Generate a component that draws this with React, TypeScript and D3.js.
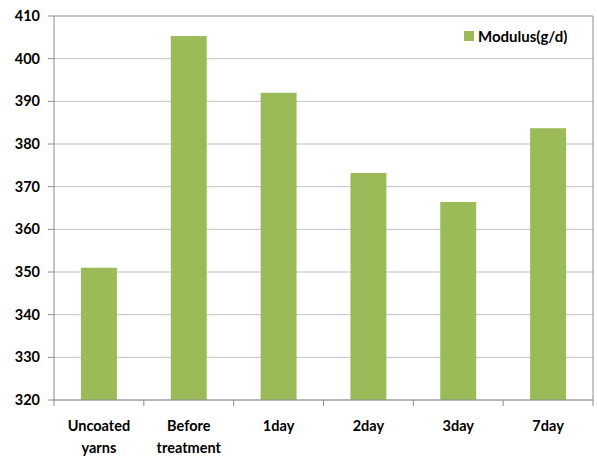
import React from "react";
import * as d3 from "d3";

const categories: string[][] = [["Uncoated", "yarns"], ["Before", "treatment"], ["1day"], ["2day"], ["3day"], ["7day"]];
const values: number[] = [351, 405.3, 392, 373.2, 366.4, 383.7];
const yTicks: number[] = [320, 330, 340, 350, 360, 370, 380, 390, 400, 410];
const seriesName = "Modulus(g/d)";

export default function App() {
  const W = 597, H = 459;
  const left = 54, right = 593, top = 16, bottom = 400;
  const x = d3.scaleBand<number>().domain(categories.map((_, i) => i)).range([left, right]).paddingInner(0.6).paddingOuter(0.3);
  const band = d3.scaleBand<number>().domain(categories.map((_, i) => i)).range([left, right]);
  const y = d3.scaleLinear().domain([320, 410]).range([bottom, top]);
  const font = "Lato, 'Open Sans', sans-serif";
  const green = "#9BBB59";
  return (
    <svg width={W} height={H} style={{ position: "absolute", left: 0, top: 0, background: "#fff" }}>
      {yTicks.map((t) => (
        <g key={t}>
          <line x1={left} x2={right} y1={y(t)} y2={y(t)} stroke={t === 410 ? "#8c8c8c" : "#c0c0c0"} strokeWidth={1} />
          <line x1={left - 6} x2={left} y1={y(t)} y2={y(t)} stroke="#8c8c8c" />
          <text x={40} y={y(t)} dy="0.35em" textAnchor="end" fontFamily={font} fontWeight="bold" fontSize={14.5} fill="#000">{t}</text>
        </g>
      ))}
      {values.map((v, i) => (
        <rect key={i} x={x(i)} y={y(v)} width={x.bandwidth()} height={bottom - y(v)} fill={green} />
      ))}
      <line x1={left} x2={left} y1={top} y2={bottom} stroke="#8c8c8c" />
      <line x1={right} x2={right} y1={top} y2={bottom + 6} stroke="#8c8c8c" />
      <line x1={left} x2={right} y1={bottom} y2={bottom} stroke="#8c8c8c" />
      {categories.map((_, i) => (
        <line key={i} x1={band(i)} x2={band(i)} y1={bottom} y2={bottom + 6} stroke="#8c8c8c" />
      ))}
      {categories.map((lines, i) => (
        <text key={i} x={(band(i) as number) + band.bandwidth() / 2} y={431} textAnchor="middle" fontFamily={font} fontWeight="bold" fontSize={14.5} fill="#000">
          {lines.map((l, j) => (
            <tspan key={j} x={(band(i) as number) + band.bandwidth() / 2} dy={j === 0 ? 0 : 22}>{l}</tspan>
          ))}
        </text>
      ))}
      <rect x={464} y={31} width={10} height={10} fill={green} />
      <text x={478} y={41.5} fontFamily={font} fontWeight="bold" fontSize={15} fill="#000">{seriesName}</text>
    </svg>
  );
}
